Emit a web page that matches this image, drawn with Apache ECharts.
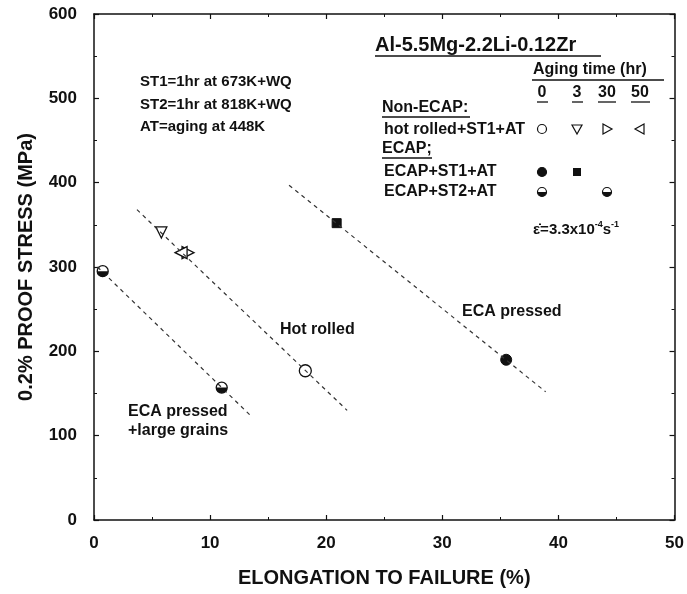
<!DOCTYPE html>
<html>
<head>
<meta charset="utf-8">
<script src="https://cdn.jsdelivr.net/npm/echarts@6/dist/echarts.min.js"></script>
<style>
html, body { margin: 0; padding: 0; background: #fff; }
#chart { width: 687px; height: 594px; }
</style>
</head>
<body>
<div id="chart"></div>
<script>
// axis ticks
const xTicks = [0, 10, 20, 30, 40, 50];
const yTicks = [0, 100, 200, 300, 400, 500, 600];

// hot rolled + ST1 + AT, aging 0 / 3 / 30 / 50 hr
const hotRolled0 = [[18.2, 177]];
const hotRolled3 = [[5.8, 341]];
const hotRolled30 = [[8.1, 317]];
const hotRolled50 = [[7.5, 317]];
// ECAP + ST1 + AT, aging 0 / 3 hr
const ecapSt1_0 = [[35.5, 190]];
const ecapSt1_3 = [[20.9, 352]];
// ECAP + ST2 + AT, aging 0 / 30 hr
const ecapSt2_0 = [[11.0, 157]];
const ecapSt2_30 = [[0.75, 295]];

// dashed trend lines (end points)
const lineLargeGrains = [[0.3, 300], [13.4, 125]];
const lineHotRolled = [[3.7, 368], [21.8, 130]];
const lineEcaPressed = [[16.8, 397], [38.9, 152]];

const FONT = 'Liberation Sans, Arial, Helvetica, sans-serif';
const INK = '#111';
const halfDisk = 'path://M0,0 A5,5 0 0 0 10,0 Z';

function txt(s, x, y, size, align) {
    return {
        type: 'text', x: x, y: y, z: 10,
        style: {
            text: s, fill: INK, fontFamily: FONT, fontWeight: 'bold',
            fontSize: size || 16, align: align || 'left', verticalAlign: 'middle'
        }
    };
}
function uline(x1, x2, y, w) {
    return {
        type: 'line', z: 10,
        shape: { x1: x1, y1: y, x2: x2, y2: y },
        style: { stroke: INK, lineWidth: w || 1.3 }
    };
}
function tri(cx, cy, dir) {
    const r = 5;
    let pts;
    if (dir === 'down') pts = [[cx - r, cy - r * 0.8], [cx + r, cy - r * 0.8], [cx, cy + r]];
    else if (dir === 'right') pts = [[cx - r * 0.8, cy - r], [cx - r * 0.8, cy + r], [cx + r, cy]];
    else pts = [[cx + r * 0.8, cy - r], [cx + r * 0.8, cy + r], [cx - r, cy]];
    return { type: 'polygon', z: 10, shape: { points: pts }, style: { fill: '#fff', stroke: INK, lineWidth: 1.2 } };
}
function dot(cx, cy, fill) {
    return { type: 'circle', z: 10, shape: { cx: cx, cy: cy, r: 4.5 }, style: { fill: fill, stroke: INK, lineWidth: 1.2 } };
}
function half(cx, cy) {
    return [
        dot(cx, cy, '#fff'),
        { type: 'sector', z: 11, shape: { cx: cx, cy: cy, r: 4.5, r0: 0, startAngle: 0, endAngle: Math.PI }, style: { fill: INK } }
    ];
}

const axisBase = {
    type: 'value',
    axisLine: { onZero: false, lineStyle: { color: INK, width: 1.5 } },
    axisTick: { inside: true, length: 5, lineStyle: { color: INK, width: 1.2 } },
    minorTick: { show: true, splitNumber: 2, length: 3, lineStyle: { color: INK, width: 1 } },
    splitLine: { show: false },
    axisLabel: { color: INK, fontFamily: FONT, fontWeight: 'bold', fontSize: 17 }
};

const openMark = { color: '#fff', borderColor: INK, borderWidth: 1.3, opacity: 1 };
const solidMark = { color: INK, borderColor: INK, borderWidth: 1, opacity: 1 };

const option = {
    animation: false,
    backgroundColor: '#fff',
    grid: { left: 94, right: 11, top: 14, bottom: 74 },
    xAxis: [
        Object.assign({}, axisBase, {
            min: xTicks[0], max: xTicks[xTicks.length - 1], interval: xTicks[1] - xTicks[0],
            position: 'bottom',
            axisLabel: Object.assign({}, axisBase.axisLabel, { margin: 15 }),
            name: 'ELONGATION TO FAILURE (%)', nameLocation: 'middle', nameGap: 48,
            nameTextStyle: { color: INK, fontFamily: FONT, fontWeight: 'bold', fontSize: 20 }
        }),
        Object.assign({}, axisBase, {
            min: xTicks[0], max: xTicks[xTicks.length - 1], interval: xTicks[1] - xTicks[0],
            position: 'top', axisLabel: { show: false }
        })
    ],
    yAxis: [
        Object.assign({}, axisBase, {
            min: yTicks[0], max: yTicks[yTicks.length - 1], interval: yTicks[1] - yTicks[0],
            position: 'left',
            axisLabel: Object.assign({}, axisBase.axisLabel, { margin: 17 }),
            name: '0.2% PROOF STRESS (MPa)', nameLocation: 'middle', nameGap: 58,
            nameTextStyle: { color: INK, fontFamily: FONT, fontWeight: 'bold', fontSize: 20 }
        }),
        Object.assign({}, axisBase, {
            min: yTicks[0], max: yTicks[yTicks.length - 1], interval: yTicks[1] - yTicks[0],
            position: 'right', axisLabel: { show: false }
        })
    ],
    series: [
        ...[lineLargeGrains, lineHotRolled, lineEcaPressed].map(d => ({
            type: 'line', data: d, symbol: 'none', silent: true,
            lineStyle: { color: '#333', width: 1.2, type: [4, 4] }
        })),
        { type: 'scatter', data: hotRolled0, symbol: 'circle', symbolSize: 12, itemStyle: openMark },
        { type: 'scatter', data: hotRolled3, symbol: 'triangle', symbolSize: 11, symbolRotate: 180, itemStyle: openMark },
        { type: 'scatter', data: hotRolled30, symbol: 'triangle', symbolSize: 12, symbolRotate: -90, itemStyle: openMark },
        { type: 'scatter', data: hotRolled50, symbol: 'triangle', symbolSize: 12, symbolRotate: 90, itemStyle: openMark },
        { type: 'scatter', data: ecapSt1_0, symbol: 'circle', symbolSize: 11, itemStyle: solidMark },
        { type: 'scatter', data: ecapSt1_3, symbol: 'rect', symbolSize: 9, itemStyle: solidMark },
        { type: 'scatter', data: ecapSt2_0.concat(ecapSt2_30), symbol: 'circle', symbolSize: 11, itemStyle: openMark },
        {
            type: 'scatter', data: ecapSt2_0.concat(ecapSt2_30), symbol: halfDisk,
            symbolSize: [11, 5.5], symbolOffset: [0, 2.75], z: 3,
            itemStyle: { color: INK, opacity: 1 }
        }
    ],
    graphic: [
        txt('Al-5.5Mg-2.2Li-0.12Zr', 375, 45, 20),
        uline(375, 601, 56, 1.6),
        txt('Aging time (hr)', 533, 70, 16),
        uline(532, 664, 80, 1.3),
        txt('0', 542, 93, 16, 'center'), uline(537, 548, 102, 1.3),
        txt('3', 577, 93, 16, 'center'), uline(572, 583, 102, 1.3),
        txt('30', 607, 93, 16, 'center'), uline(598, 616, 102, 1.3),
        txt('50', 640, 93, 16, 'center'), uline(631, 650, 102, 1.3),
        txt('Non-ECAP:', 382, 108, 16), uline(382, 470, 117, 1.3),
        txt('hot rolled+ST1+AT', 384, 130, 16),
        dot(542, 129, '#fff'), tri(577, 129, 'down'), tri(607, 129, 'right'), tri(640, 129, 'left'),
        txt('ECAP;', 382, 149, 16), uline(382, 432, 158, 1.3),
        txt('ECAP+ST1+AT', 384, 172, 16),
        dot(542, 172, INK),
        { type: 'rect', z: 10, shape: { x: 573, y: 168, width: 8, height: 8 }, style: { fill: INK } },
        txt('ECAP+ST2+AT', 384, 192, 16),
        ...half(542, 192), ...half(607, 192),
        {
            type: 'text', x: 533, y: 230, z: 10,
            style: {
                text: '{a|ε̇=3.3x10}{s|-4}{a|s}{s|-1}',
                verticalAlign: 'middle', fill: INK,
                rich: {
                    a: { fontFamily: FONT, fontWeight: 'bold', fontSize: 15, lineHeight: 20, fill: INK },
                    s: { fontFamily: FONT, fontWeight: 'bold', fontSize: 9, lineHeight: 20, verticalAlign: 'top', fill: INK }
                }
            }
        },
        txt('ST1=1hr at 673K+WQ', 140, 82, 15),
        txt('ST2=1hr at 818K+WQ', 140, 105, 15),
        txt('AT=aging at 448K', 140, 127, 15),
        txt('Hot rolled', 280, 330, 16),
        txt('ECA pressed', 462, 312, 16),
        txt('ECA pressed', 128, 412, 16),
        txt('+large grains', 128, 431, 16)
    ]
};

const chart = echarts.init(document.getElementById('chart'));
chart.setOption(option);
</script>
</body>
</html>
